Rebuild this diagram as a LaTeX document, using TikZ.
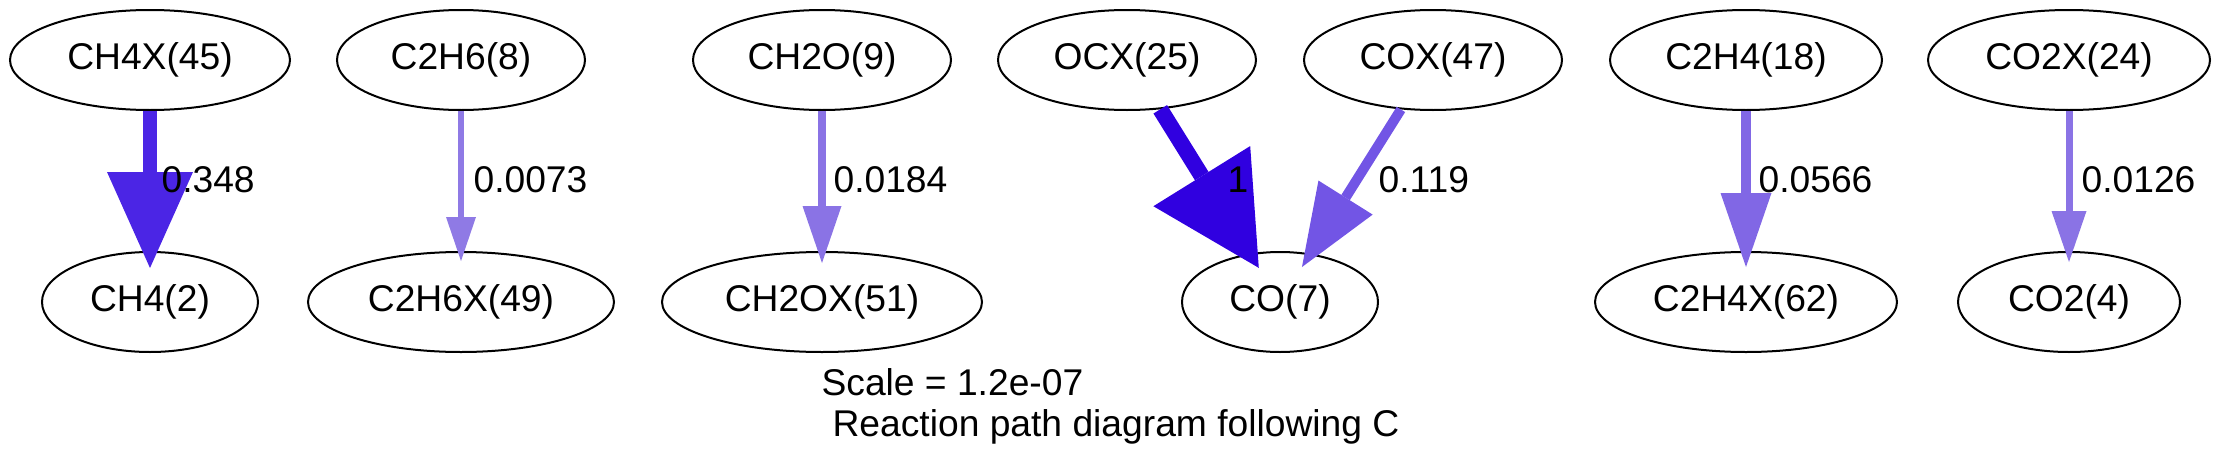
\documentclass[tikz,border=0pt]{standalone}
\usepackage{fontspec}
\setmainfont{Liberation Sans}
\usetikzlibrary{shapes.geometric,arrows.meta}
\definecolor{fA}{rgb}{0.190,0.000,0.88}
\definecolor{fB}{rgb}{0.295,0.144,0.9}
\definecolor{fC}{rgb}{0.446,0.333,0.9}
\definecolor{fD}{rgb}{0.504,0.405,0.9}
\definecolor{fE}{rgb}{0.540,0.450,0.9}
\definecolor{fF}{rgb}{0.540,0.450,0.9}
\definecolor{fG}{rgb}{0.562,0.477,0.9}
\tikzset{
  sp/.style={ellipse,draw=black,line width=0.72pt,minimum height=36pt,inner sep=0pt,
    font=\fontsize{13.4}{16}\selectfont},
  lbl/.style={anchor=west,inner sep=0pt,font=\fontsize{13.4}{16}\selectfont},
  flow/.style n args={5}{draw=#1,line width=#2,shorten >=#5,
    -{Triangle[length=#3,width=#4,line width=0pt,fill=#1]}}
}
\begin{document}
\begin{tikzpicture}[x=0.36pt,y=-0.36pt]
\useasboundingbox (0,0) rectangle (2224,469);
% top row
\node[sp,minimum width=100.8pt]  (ch4x)  at (150,60)  {CH4X(45)};
\node[sp,minimum width=89.28pt]  (c2h6)  at (461,60)  {C2H6(8)};
\node[sp,minimum width=92.88pt]  (ch2o)  at (822,60)  {CH2O(9)};
\node[sp,minimum width=92.88pt]  (ocx)   at (1127,60) {OCX(25)};
\node[sp,minimum width=92.88pt]  (cox)   at (1433,60) {COX(47)};
\node[sp,minimum width=97.92pt]  (c2h4)  at (1746,60) {C2H4(18)};
\node[sp,minimum width=101.52pt] (co2x)  at (2069,60) {CO2X(24)};
% bottom row
\node[sp,minimum width=77.76pt]  (ch4)   at (150,302)  {CH4(2)};
\node[sp,minimum width=110.16pt] (c2h6x) at (461,302)  {C2H6X(49)};
\node[sp,minimum width=115.2pt]  (ch2ox) at (822,302)  {CH2OX(51)};
\node[sp,minimum width=70.56pt]  (co)    at (1280,302) {CO(7)};
\node[sp,minimum width=108.72pt] (c2h4x) at (1746,302) {C2H4X(62)};
\node[sp,minimum width=79.92pt]  (co2)   at (2069,302) {CO2(4)};
% connectors
\draw[flow={fB}{5.04pt}{34.56pt}{30.96pt}{-6.12pt}] (ch4x) -- (ch4);
\draw[flow={fG}{2.05pt}{15.84pt}{10.8pt}{-3.6pt}] (c2h6) -- (c2h6x);
\draw[flow={fE}{2.88pt}{20.52pt}{14.04pt}{-4.32pt}] (ch2o) -- (ch2ox);
\draw[flow={fA}{5.76pt}{38.88pt}{41.04pt}{-6.12pt}] (ocx.-56.5) -- (co);
\draw[flow={fC}{3.6pt}{29.52pt}{23.04pt}{-5.76pt}] (cox.-123.4) -- (co);
\draw[flow={fD}{3.6pt}{26.64pt}{18.36pt}{-5.76pt}] (c2h4) -- (c2h4x);
\draw[flow={fF}{2.52pt}{18.36pt}{12.6pt}{-3.96pt}] (co2x) -- (co2);
% edge labels
\node[lbl] (l1) at (161,180)  {0.348};
\node[lbl] (l2) at (473,180)  {0.0073};
\node[lbl] (l3) at (833,180)  {0.0184};
\node[lbl] (l4) at (1227,180) {1};
\node[lbl] (l5) at (1378,180) {0.119};
\node[lbl] (l6) at (1758,180) {0.0566};
\node[lbl] (l7) at (2081,180) {0.0126};
% caption
\node[lbl] (cap1) at (821,382) {Scale = 1.2e-07};
\node[lbl] (cap2) at (832,427) {Reaction path diagram following C};
\end{tikzpicture}
\end{document}
